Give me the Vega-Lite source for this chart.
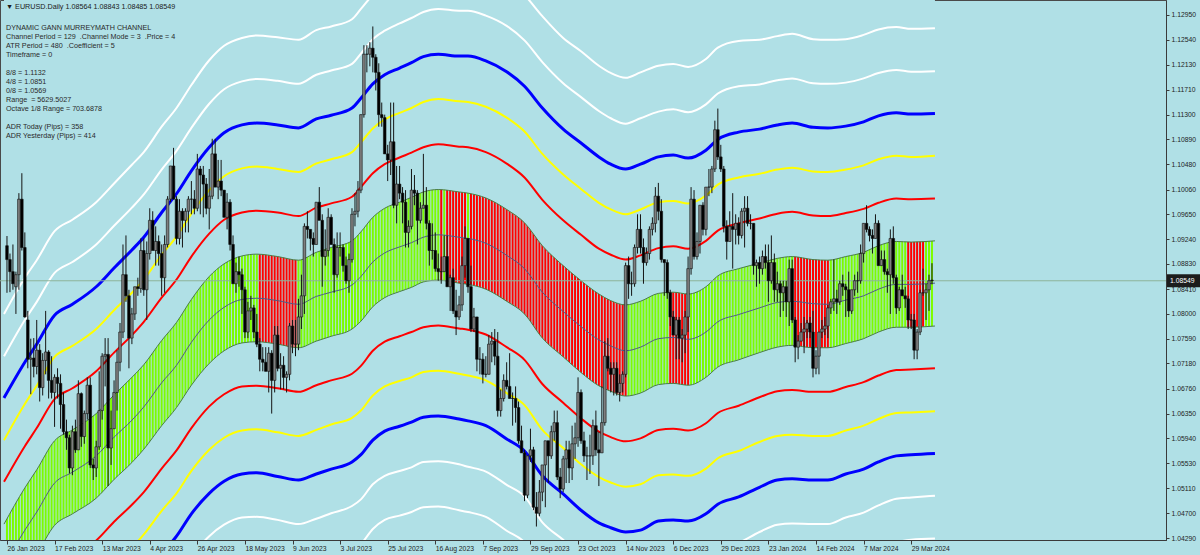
{
"$schema":"https://vega.github.io/schema/vega-lite/v6.json",
"width":1166,"height":540,
"autosize":{"type":"none"},
"padding":{"left":0,"top":0,"right":34,"bottom":15},
"title":{"text":"▼ EURUSD.Daily  1.08564 1.08843 1.08485 1.08549","subtitle":["\u2800","\u00a0DYNAMIC GANN MURREYMATH CHANNEL","Channel Period = 129 \u00a0.Channel Mode = 3 \u00a0.Price = 4","ATR Period = 480 \u00a0.Coefficient = 5","Timeframe = 0","\u2800","8/8 = 1.1132","4/8 = 1.0851","0/8 = 1.0569","Range \u00a0= 5629.5027","Octave 1/8 Range = 703.6878","\u2800","ADR Today (Pips) = 358","ADR Yesterday (Pips) = 414"],"anchor":"start","frame":"group","orient":"top","offset":-139,"dx":6,"font":"Liberation Sans","fontSize":7.2,"fontWeight":"normal","color":"#1a1a1a","subtitleFont":"Liberation Sans","subtitleFontSize":7.2,"subtitleColor":"#2a2a2a","subtitleLineHeight":9,"subtitlePadding":4.5},
"config":{"background":"#B0E0E6","view":{"stroke":"#4a4a4a","strokeWidth":1},"axis":{"labelFont":"Liberation Sans","labelFontSize":6.8,"labelColor":"#1e1e1e","tickColor":"#3a3a3a","domainColor":"#3a3a3a","grid":false}},
"resolve":{"axis":{"x":"independent","y":"independent"}},
"datasets":{
"bars":[
{"i":0,"o":1.0913,"h":1.0929,"l":1.0835,"c":1.0890,"s":"g"},
{"i":1,"o":1.0890,"h":1.0900,"l":1.0836,"c":1.0870,"s":"g"},
{"i":2,"o":1.0870,"h":1.0915,"l":1.0840,"c":1.0850,"s":"g"},
{"i":3,"o":1.0845,"h":1.0870,"l":1.0800,"c":1.0865,"s":"g"},
{"i":4,"o":1.0865,"h":1.1000,"l":1.0840,"c":1.0990,"s":"g"},
{"i":5,"o":1.0990,"h":1.1033,"l":1.0905,"c":1.0910,"s":"g"},
{"i":6,"o":1.0910,"h":1.0935,"l":1.0794,"c":1.0795,"s":"g"},
{"i":7,"o":1.0790,"h":1.0805,"l":1.0710,"c":1.0725,"s":"g"},
{"i":8,"o":1.0725,"h":1.0759,"l":1.0667,"c":1.0727,"s":"g"},
{"i":9,"o":1.0727,"h":1.0760,"l":1.0695,"c":1.0713,"s":"g"},
{"i":10,"o":1.0713,"h":1.0790,"l":1.0700,"c":1.0740,"s":"g"},
{"i":11,"o":1.0740,"h":1.0750,"l":1.0655,"c":1.0678,"s":"g"},
{"i":12,"o":1.0678,"h":1.0735,"l":1.0665,"c":1.0723,"s":"g"},
{"i":13,"o":1.0723,"h":1.0805,"l":1.0700,"c":1.0737,"s":"g"},
{"i":14,"o":1.0737,"h":1.0740,"l":1.0660,"c":1.0690,"s":"g"},
{"i":15,"o":1.0690,"h":1.0730,"l":1.0660,"c":1.0670,"s":"g"},
{"i":16,"o":1.0670,"h":1.0700,"l":1.0613,"c":1.0695,"s":"g"},
{"i":17,"o":1.0695,"h":1.0710,"l":1.0660,"c":1.0685,"s":"g"},
{"i":18,"o":1.0685,"h":1.0700,"l":1.0610,"c":1.0650,"s":"g"},
{"i":19,"o":1.0650,"h":1.0670,"l":1.0600,"c":1.0605,"s":"g"},
{"i":20,"o":1.0605,"h":1.0625,"l":1.0575,"c":1.0595,"s":"g"},
{"i":21,"o":1.0595,"h":1.0600,"l":1.0536,"c":1.0545,"s":"g"},
{"i":22,"o":1.0545,"h":1.0615,"l":1.0533,"c":1.0605,"s":"g"},
{"i":23,"o":1.0605,"h":1.0625,"l":1.0570,"c":1.0575,"s":"g"},
{"i":24,"o":1.0575,"h":1.0690,"l":1.0575,"c":1.0668,"s":"g"},
{"i":25,"o":1.0668,"h":1.0670,"l":1.0580,"c":1.0597,"s":"g"},
{"i":26,"o":1.0597,"h":1.0640,"l":1.0585,"c":1.0635,"s":"g"},
{"i":27,"o":1.0635,"h":1.0695,"l":1.0625,"c":1.0682,"s":"g"},
{"i":28,"o":1.0682,"h":1.0695,"l":1.0545,"c":1.0550,"s":"g"},
{"i":29,"o":1.0550,"h":1.0560,"l":1.0525,"c":1.0545,"s":"g"},
{"i":30,"o":1.0545,"h":1.0590,"l":1.0530,"c":1.0580,"s":"g"},
{"i":31,"o":1.0580,"h":1.0705,"l":1.0575,"c":1.0640,"s":"g"},
{"i":32,"o":1.0640,"h":1.0735,"l":1.0625,"c":1.0730,"s":"g"},
{"i":33,"o":1.0730,"h":1.0760,"l":1.0680,"c":1.0733,"s":"g"},
{"i":34,"o":1.0733,"h":1.0760,"l":1.0515,"c":1.0578,"s":"g"},
{"i":35,"o":1.0578,"h":1.0640,"l":1.0550,"c":1.0610,"s":"g"},
{"i":36,"o":1.0610,"h":1.0690,"l":1.0610,"c":1.0670,"s":"g"},
{"i":37,"o":1.0670,"h":1.0740,"l":1.0640,"c":1.0720,"s":"g"},
{"i":38,"o":1.0720,"h":1.0785,"l":1.0705,"c":1.0770,"s":"g"},
{"i":39,"o":1.0770,"h":1.0915,"l":1.0760,"c":1.0865,"s":"g"},
{"i":40,"o":1.0865,"h":1.0930,"l":1.0820,"c":1.0830,"s":"g"},
{"i":41,"o":1.0830,"h":1.0840,"l":1.0710,"c":1.0760,"s":"g"},
{"i":42,"o":1.0760,"h":1.0810,"l":1.0750,"c":1.0800,"s":"g"},
{"i":43,"o":1.0800,"h":1.0845,"l":1.0790,"c":1.0845,"s":"g"},
{"i":44,"o":1.0845,"h":1.0860,"l":1.0830,"c":1.0842,"s":"g"},
{"i":45,"o":1.0842,"h":1.0925,"l":1.0835,"c":1.0905,"s":"g"},
{"i":46,"o":1.0905,"h":1.0925,"l":1.0830,"c":1.0840,"s":"g"},
{"i":47,"o":1.0840,"h":1.0920,"l":1.0790,"c":1.0900,"s":"g"},
{"i":48,"o":1.0900,"h":1.0975,"l":1.0890,"c":1.0955,"s":"g"},
{"i":49,"o":1.0955,"h":1.0970,"l":1.0910,"c":1.0905,"s":"g"},
{"i":50,"o":1.0905,"h":1.0945,"l":1.0880,"c":1.0920,"s":"g"},
{"i":51,"o":1.0920,"h":1.0930,"l":1.0880,"c":1.0900,"s":"g"},
{"i":52,"o":1.0900,"h":1.0915,"l":1.0830,"c":1.0860,"s":"g"},
{"i":53,"o":1.0860,"h":1.0930,"l":1.0835,"c":1.0915,"s":"g"},
{"i":54,"o":1.0915,"h":1.0995,"l":1.0910,"c":1.0990,"s":"g"},
{"i":55,"o":1.0990,"h":1.1045,"l":1.0985,"c":1.1045,"s":"g"},
{"i":56,"o":1.1045,"h":1.1075,"l":1.0990,"c":1.0990,"s":"g"},
{"i":57,"o":1.0990,"h":1.0995,"l":1.0915,"c":1.0925,"s":"g"},
{"i":58,"o":1.0925,"h":1.0990,"l":1.0915,"c":1.0970,"s":"g"},
{"i":59,"o":1.0970,"h":1.0975,"l":1.0910,"c":1.0955,"s":"g"},
{"i":60,"o":1.0955,"h":1.0975,"l":1.0935,"c":1.0970,"s":"g"},
{"i":61,"o":1.0970,"h":1.0995,"l":1.0935,"c":1.0990,"s":"g"},
{"i":62,"o":1.0990,"h":1.1020,"l":1.0965,"c":1.0990,"s":"g"},
{"i":63,"o":1.0990,"h":1.1005,"l":1.0965,"c":1.0975,"s":"g"},
{"i":64,"o":1.0975,"h":1.1065,"l":1.0970,"c":1.1040,"s":"g"},
{"i":65,"o":1.1040,"h":1.1045,"l":1.0965,"c":1.1030,"s":"g"},
{"i":66,"o":1.1030,"h":1.1045,"l":1.0960,"c":1.1015,"s":"g"},
{"i":67,"o":1.1015,"h":1.1025,"l":1.0965,"c":1.0975,"s":"g"},
{"i":68,"o":1.0975,"h":1.1040,"l":1.0940,"c":1.0995,"s":"g"},
{"i":69,"o":1.0995,"h":1.1090,"l":1.0990,"c":1.1065,"s":"g"},
{"i":70,"o":1.1065,"h":1.1090,"l":1.1010,"c":1.1010,"s":"g"},
{"i":71,"o":1.1010,"h":1.1055,"l":1.0990,"c":1.1020,"s":"g"},
{"i":72,"o":1.1020,"h":1.1055,"l":1.0995,"c":1.1005,"s":"g"},
{"i":73,"o":1.1005,"h":1.1005,"l":1.0960,"c":1.0960,"s":"g"},
{"i":74,"o":1.0960,"h":1.1000,"l":1.0940,"c":1.0985,"s":"g"},
{"i":75,"o":1.0985,"h":1.0990,"l":1.0905,"c":1.0915,"s":"g"},
{"i":76,"o":1.0915,"h":1.0930,"l":1.0850,"c":1.0850,"s":"g"},
{"i":77,"o":1.0850,"h":1.0885,"l":1.0835,"c":1.0870,"s":"g"},
{"i":78,"o":1.0870,"h":1.0895,"l":1.0845,"c":1.0865,"s":"g"},
{"i":79,"o":1.0865,"h":1.0875,"l":1.0800,"c":1.0840,"s":"g"},
{"i":80,"o":1.0840,"h":1.0845,"l":1.0760,"c":1.0770,"s":"g"},
{"i":81,"o":1.0770,"h":1.0820,"l":1.0760,"c":1.0805,"s":"g"},
{"i":82,"o":1.0805,"h":1.0830,"l":1.0790,"c":1.0810,"s":"g"},
{"i":83,"o":1.0810,"h":1.0815,"l":1.0760,"c":1.0770,"s":"g"},
{"i":84,"o":1.0770,"h":1.0800,"l":1.0745,"c":1.0750,"s":"g"},
{"i":85,"o":1.0750,"h":1.0760,"l":1.0705,"c":1.0725,"s":"r"},
{"i":86,"o":1.0725,"h":1.0745,"l":1.0705,"c":1.0720,"s":"r"},
{"i":87,"o":1.0720,"h":1.0745,"l":1.0705,"c":1.0705,"s":"r"},
{"i":88,"o":1.0705,"h":1.0745,"l":1.0670,"c":1.0735,"s":"r"},
{"i":89,"o":1.0735,"h":1.0740,"l":1.0635,"c":1.0690,"s":"r"},
{"i":90,"o":1.0690,"h":1.0780,"l":1.0670,"c":1.0765,"s":"r"},
{"i":91,"o":1.0765,"h":1.0780,"l":1.0705,"c":1.0710,"s":"r"},
{"i":92,"o":1.0710,"h":1.0735,"l":1.0675,"c":1.0715,"s":"r"},
{"i":93,"o":1.0715,"h":1.0730,"l":1.0675,"c":1.0695,"s":"r"},
{"i":94,"o":1.0695,"h":1.0705,"l":1.0670,"c":1.0700,"s":"r"},
{"i":95,"o":1.0700,"h":1.0785,"l":1.0690,"c":1.0780,"s":"r"},
{"i":96,"o":1.0780,"h":1.0790,"l":1.0735,"c":1.0750,"s":"r"},
{"i":97,"o":1.0750,"h":1.0790,"l":1.0730,"c":1.0750,"s":"r"},
{"i":98,"o":1.0750,"h":1.0825,"l":1.0740,"c":1.0795,"s":"g"},
{"i":99,"o":1.0795,"h":1.0865,"l":1.0775,"c":1.0830,"s":"g"},
{"i":100,"o":1.0830,"h":1.0950,"l":1.0800,"c":1.0945,"s":"g"},
{"i":101,"o":1.0945,"h":1.0970,"l":1.0925,"c":1.0940,"s":"g"},
{"i":102,"o":1.0940,"h":1.0940,"l":1.0905,"c":1.0925,"s":"g"},
{"i":103,"o":1.0925,"h":1.0935,"l":1.0895,"c":1.0915,"s":"g"},
{"i":104,"o":1.0915,"h":1.0985,"l":1.0915,"c":1.0985,"s":"g"},
{"i":105,"o":1.0985,"h":1.1010,"l":1.0955,"c":1.0955,"s":"g"},
{"i":106,"o":1.0955,"h":1.0965,"l":1.0845,"c":1.0895,"s":"g"},
{"i":107,"o":1.0895,"h":1.0940,"l":1.0880,"c":1.0905,"s":"g"},
{"i":108,"o":1.0905,"h":1.0975,"l":1.0895,"c":1.0960,"s":"g"},
{"i":109,"o":1.0960,"h":1.0965,"l":1.0915,"c":1.0915,"s":"g"},
{"i":110,"o":1.0915,"h":1.0925,"l":1.0835,"c":1.0865,"s":"g"},
{"i":111,"o":1.0865,"h":1.0935,"l":1.0860,"c":1.0910,"s":"g"},
{"i":112,"o":1.0910,"h":1.0935,"l":1.0895,"c":1.0910,"s":"g"},
{"i":113,"o":1.0910,"h":1.0915,"l":1.0870,"c":1.0880,"s":"g"},
{"i":114,"o":1.0880,"h":1.0895,"l":1.0850,"c":1.0855,"s":"g"},
{"i":115,"o":1.0855,"h":1.0900,"l":1.0835,"c":1.0890,"s":"g"},
{"i":116,"o":1.0890,"h":1.0975,"l":1.0885,"c":1.0965,"s":"g"},
{"i":117,"o":1.0965,"h":1.1000,"l":1.0945,"c":1.0970,"s":"g"},
{"i":118,"o":1.0970,"h":1.1020,"l":1.0960,"c":1.1005,"s":"g"},
{"i":119,"o":1.1005,"h":1.1130,"l":1.1000,"c":1.1130,"s":"g"},
{"i":120,"o":1.1130,"h":1.1245,"l":1.1125,"c":1.1230,"s":"g"},
{"i":121,"o":1.1230,"h":1.1245,"l":1.1200,"c":1.1230,"s":"g"},
{"i":122,"o":1.1230,"h":1.1250,"l":1.1210,"c":1.1240,"s":"g"},
{"i":123,"o":1.1240,"h":1.1276,"l":1.1200,"c":1.1225,"s":"g"},
{"i":124,"o":1.1225,"h":1.1230,"l":1.1170,"c":1.1200,"s":"g"},
{"i":125,"o":1.1200,"h":1.1215,"l":1.1110,"c":1.1130,"s":"g"},
{"i":126,"o":1.1130,"h":1.1150,"l":1.1110,"c":1.1125,"s":"g"},
{"i":127,"o":1.1125,"h":1.1130,"l":1.1065,"c":1.1065,"s":"g"},
{"i":128,"o":1.1065,"h":1.1080,"l":1.1020,"c":1.1055,"s":"g"},
{"i":129,"o":1.1055,"h":1.1150,"l":1.1030,"c":1.1085,"s":"g"},
{"i":130,"o":1.1085,"h":1.1150,"l":1.0975,"c":1.0980,"s":"g"},
{"i":131,"o":1.0980,"h":1.1045,"l":1.0950,"c":1.1015,"s":"g"},
{"i":132,"o":1.1015,"h":1.1045,"l":1.0990,"c":1.1000,"s":"g"},
{"i":133,"o":1.1000,"h":1.1010,"l":1.0950,"c":1.0985,"s":"g"},
{"i":134,"o":1.0985,"h":1.1005,"l":1.0910,"c":1.0935,"s":"g"},
{"i":135,"o":1.0935,"h":1.0955,"l":1.0910,"c":1.0945,"s":"g"},
{"i":136,"o":1.0945,"h":1.1040,"l":1.0940,"c":1.1005,"s":"g"},
{"i":137,"o":1.1005,"h":1.1030,"l":1.0980,"c":1.1000,"s":"g"},
{"i":138,"o":1.1000,"h":1.1005,"l":1.0915,"c":1.0955,"s":"g"},
{"i":139,"o":1.0955,"h":1.0985,"l":1.0950,"c":1.0975,"s":"g"},
{"i":140,"o":1.0975,"h":1.1065,"l":1.0975,"c":1.0980,"s":"g"},
{"i":141,"o":1.0980,"h":1.1010,"l":1.0940,"c":1.0950,"s":"g"},
{"i":142,"o":1.0950,"h":1.0955,"l":1.0880,"c":1.0905,"s":"g"},
{"i":143,"o":1.0905,"h":1.0950,"l":1.0890,"c":1.0905,"s":"g"},
{"i":144,"o":1.0905,"h":1.0935,"l":1.0870,"c":1.0875,"s":"g"},
{"i":145,"o":1.0875,"h":1.0900,"l":1.0855,"c":1.0870,"s":"g"},
{"i":146,"o":1.0870,"h":1.0895,"l":1.0850,"c":1.0870,"s":"r"},
{"i":147,"o":1.0870,"h":1.0930,"l":1.0870,"c":1.0895,"s":"g"},
{"i":148,"o":1.0895,"h":1.0930,"l":1.0845,"c":1.0845,"s":"r"},
{"i":149,"o":1.0845,"h":1.0865,"l":1.0805,"c":1.0860,"s":"r"},
{"i":150,"o":1.0860,"h":1.0875,"l":1.0800,"c":1.0805,"s":"r"},
{"i":151,"o":1.0805,"h":1.0840,"l":1.0765,"c":1.0795,"s":"r"},
{"i":152,"o":1.0795,"h":1.0830,"l":1.0790,"c":1.0815,"s":"r"},
{"i":153,"o":1.0815,"h":1.0895,"l":1.0805,"c":1.0880,"s":"r"},
{"i":154,"o":1.0880,"h":1.0945,"l":1.0860,"c":1.0925,"s":"r"},
{"i":155,"o":1.0925,"h":1.0925,"l":1.0835,"c":1.0845,"s":"g"},
{"i":156,"o":1.0845,"h":1.0880,"l":1.0770,"c":1.0775,"s":"r"},
{"i":157,"o":1.0775,"h":1.0810,"l":1.0770,"c":1.0795,"s":"r"},
{"i":158,"o":1.0795,"h":1.0795,"l":1.0705,"c":1.0725,"s":"r"},
{"i":159,"o":1.0725,"h":1.0745,"l":1.0700,"c":1.0725,"s":"r"},
{"i":160,"o":1.0725,"h":1.0735,"l":1.0685,"c":1.0700,"s":"r"},
{"i":161,"o":1.0700,"h":1.0730,"l":1.0695,"c":1.0700,"s":"r"},
{"i":162,"o":1.0700,"h":1.0765,"l":1.0700,"c":1.0750,"s":"r"},
{"i":163,"o":1.0750,"h":1.0770,"l":1.0720,"c":1.0755,"s":"r"},
{"i":164,"o":1.0755,"h":1.0775,"l":1.0715,"c":1.0730,"s":"r"},
{"i":165,"o":1.0730,"h":1.0770,"l":1.0630,"c":1.0640,"s":"r"},
{"i":166,"o":1.0640,"h":1.0675,"l":1.0630,"c":1.0660,"s":"r"},
{"i":167,"o":1.0660,"h":1.0700,"l":1.0655,"c":1.0690,"s":"r"},
{"i":168,"o":1.0690,"h":1.0720,"l":1.0675,"c":1.0680,"s":"r"},
{"i":169,"o":1.0680,"h":1.0735,"l":1.0660,"c":1.0660,"s":"r"},
{"i":170,"o":1.0660,"h":1.0670,"l":1.0615,"c":1.0660,"s":"r"},
{"i":171,"o":1.0660,"h":1.0680,"l":1.0620,"c":1.0645,"s":"r"},
{"i":172,"o":1.0645,"h":1.0655,"l":1.0585,"c":1.0590,"s":"r"},
{"i":173,"o":1.0590,"h":1.0615,"l":1.0570,"c":1.0570,"s":"r"},
{"i":174,"o":1.0570,"h":1.0575,"l":1.0490,"c":1.0500,"s":"r"},
{"i":175,"o":1.0500,"h":1.0565,"l":1.0495,"c":1.0565,"s":"r"},
{"i":176,"o":1.0565,"h":1.0610,"l":1.0555,"c":1.0575,"s":"r"},
{"i":177,"o":1.0575,"h":1.0580,"l":1.0475,"c":1.0480,"s":"r"},
{"i":178,"o":1.0480,"h":1.0505,"l":1.0448,"c":1.0470,"s":"r"},
{"i":179,"o":1.0470,"h":1.0525,"l":1.0465,"c":1.0505,"s":"r"},
{"i":180,"o":1.0505,"h":1.0545,"l":1.0490,"c":1.0550,"s":"r"},
{"i":181,"o":1.0550,"h":1.0590,"l":1.0480,"c":1.0590,"s":"r"},
{"i":182,"o":1.0590,"h":1.0590,"l":1.0520,"c":1.0565,"s":"r"},
{"i":183,"o":1.0565,"h":1.0615,"l":1.0560,"c":1.0605,"s":"r"},
{"i":184,"o":1.0605,"h":1.0640,"l":1.0590,"c":1.0620,"s":"r"},
{"i":185,"o":1.0620,"h":1.0640,"l":1.0525,"c":1.0530,"s":"r"},
{"i":186,"o":1.0530,"h":1.0545,"l":1.0495,"c":1.0510,"s":"r"},
{"i":187,"o":1.0510,"h":1.0565,"l":1.0505,"c":1.0560,"s":"r"},
{"i":188,"o":1.0560,"h":1.0590,"l":1.0520,"c":1.0575,"s":"r"},
{"i":189,"o":1.0575,"h":1.0590,"l":1.0520,"c":1.0545,"s":"r"},
{"i":190,"o":1.0545,"h":1.0615,"l":1.0525,"c":1.0585,"s":"r"},
{"i":191,"o":1.0585,"h":1.0620,"l":1.0560,"c":1.0595,"s":"r"},
{"i":192,"o":1.0595,"h":1.0695,"l":1.0580,"c":1.0670,"s":"r"},
{"i":193,"o":1.0670,"h":1.0675,"l":1.0585,"c":1.0590,"s":"r"},
{"i":194,"o":1.0590,"h":1.0605,"l":1.0555,"c":1.0565,"s":"r"},
{"i":195,"o":1.0565,"h":1.0580,"l":1.0525,"c":1.0565,"s":"r"},
{"i":196,"o":1.0565,"h":1.0600,"l":1.0535,"c":1.0565,"s":"r"},
{"i":197,"o":1.0565,"h":1.0625,"l":1.0550,"c":1.0615,"s":"r"},
{"i":198,"o":1.0615,"h":1.0640,"l":1.0565,"c":1.0575,"s":"r"},
{"i":199,"o":1.0575,"h":1.0605,"l":1.0515,"c":1.0570,"s":"r"},
{"i":200,"o":1.0570,"h":1.0680,"l":1.0570,"c":1.0620,"s":"r"},
{"i":201,"o":1.0620,"h":1.0755,"l":1.0615,"c":1.0730,"s":"r"},
{"i":202,"o":1.0730,"h":1.0760,"l":1.0705,"c":1.0710,"s":"r"},
{"i":203,"o":1.0710,"h":1.0720,"l":1.0670,"c":1.0700,"s":"r"},
{"i":204,"o":1.0700,"h":1.0720,"l":1.0665,"c":1.0710,"s":"r"},
{"i":205,"o":1.0710,"h":1.0720,"l":1.0665,"c":1.0670,"s":"r"},
{"i":206,"o":1.0670,"h":1.0700,"l":1.0655,"c":1.0685,"s":"r"},
{"i":207,"o":1.0685,"h":1.0705,"l":1.0670,"c":1.0700,"s":"r"},
{"i":208,"o":1.0700,"h":1.0885,"l":1.0695,"c":1.0880,"s":"r"},
{"i":209,"o":1.0880,"h":1.0895,"l":1.0825,"c":1.0850,"s":"g"},
{"i":210,"o":1.0850,"h":1.0870,"l":1.0830,"c":1.0850,"s":"g"},
{"i":211,"o":1.0850,"h":1.0915,"l":1.0845,"c":1.0910,"s":"g"},
{"i":212,"o":1.0910,"h":1.0965,"l":1.0900,"c":1.0940,"s":"g"},
{"i":213,"o":1.0940,"h":1.0965,"l":1.0900,"c":1.0910,"s":"g"},
{"i":214,"o":1.0910,"h":1.0925,"l":1.0850,"c":1.0885,"s":"g"},
{"i":215,"o":1.0885,"h":1.0910,"l":1.0880,"c":1.0900,"s":"g"},
{"i":216,"o":1.0900,"h":1.0945,"l":1.0890,"c":1.0940,"s":"g"},
{"i":217,"o":1.0940,"h":1.0960,"l":1.0930,"c":1.0950,"s":"g"},
{"i":218,"o":1.0950,"h":1.1010,"l":1.0935,"c":1.0995,"s":"g"},
{"i":219,"o":1.0995,"h":1.1017,"l":1.0955,"c":1.0970,"s":"g"},
{"i":220,"o":1.0970,"h":1.0990,"l":1.0885,"c":1.0890,"s":"g"},
{"i":221,"o":1.0890,"h":1.0890,"l":1.0830,"c":1.0885,"s":"g"},
{"i":222,"o":1.0885,"h":1.0890,"l":1.0825,"c":1.0835,"s":"g"},
{"i":223,"o":1.0835,"h":1.0840,"l":1.0780,"c":1.0795,"s":"r"},
{"i":224,"o":1.0795,"h":1.0805,"l":1.0765,"c":1.0765,"s":"r"},
{"i":225,"o":1.0765,"h":1.0795,"l":1.0725,"c":1.0790,"s":"r"},
{"i":226,"o":1.0790,"h":1.0795,"l":1.0725,"c":1.0760,"s":"r"},
{"i":227,"o":1.0760,"h":1.0775,"l":1.0720,"c":1.0765,"s":"r"},
{"i":228,"o":1.0765,"h":1.0805,"l":1.0735,"c":1.0795,"s":"r"},
{"i":229,"o":1.0795,"h":1.0895,"l":1.0770,"c":1.0875,"s":"r"},
{"i":230,"o":1.0875,"h":1.1010,"l":1.0865,"c":1.0990,"s":"g"},
{"i":231,"o":1.0990,"h":1.1005,"l":1.0890,"c":1.0895,"s":"g"},
{"i":232,"o":1.0895,"h":1.0935,"l":1.0890,"c":1.0920,"s":"g"},
{"i":233,"o":1.0920,"h":1.0980,"l":1.0900,"c":1.0980,"s":"g"},
{"i":234,"o":1.0980,"h":1.0985,"l":1.0930,"c":1.0940,"s":"g"},
{"i":235,"o":1.0940,"h":1.1010,"l":1.0930,"c":1.1010,"s":"g"},
{"i":236,"o":1.1010,"h":1.1040,"l":1.0995,"c":1.1010,"s":"g"},
{"i":237,"o":1.1010,"h":1.1045,"l":1.1000,"c":1.1040,"s":"g"},
{"i":238,"o":1.1040,"h":1.1120,"l":1.1035,"c":1.1105,"s":"g"},
{"i":239,"o":1.1105,"h":1.1140,"l":1.1055,"c":1.1060,"s":"g"},
{"i":240,"o":1.1060,"h":1.1080,"l":1.1035,"c":1.1040,"s":"g"},
{"i":241,"o":1.1040,"h":1.1045,"l":1.0935,"c":1.0945,"s":"g"},
{"i":242,"o":1.0945,"h":1.0955,"l":1.0890,"c":1.0920,"s":"g"},
{"i":243,"o":1.0920,"h":1.0970,"l":1.0920,"c":1.0945,"s":"g"},
{"i":244,"o":1.0945,"h":1.1000,"l":1.0875,"c":1.0940,"s":"g"},
{"i":245,"o":1.0940,"h":1.0965,"l":1.0915,"c":1.0950,"s":"g"},
{"i":246,"o":1.0950,"h":1.0960,"l":1.0915,"c":1.0930,"s":"g"},
{"i":247,"o":1.0930,"h":1.0975,"l":1.0925,"c":1.0970,"s":"g"},
{"i":248,"o":1.0970,"h":1.0995,"l":1.0910,"c":1.0975,"s":"g"},
{"i":249,"o":1.0975,"h":1.0995,"l":1.0945,"c":1.0950,"s":"g"},
{"i":250,"o":1.0950,"h":1.0965,"l":1.0940,"c":1.0950,"s":"g"},
{"i":251,"o":1.0950,"h":1.0950,"l":1.0865,"c":1.0880,"s":"g"},
{"i":252,"o":1.0880,"h":1.0890,"l":1.0845,"c":1.0885,"s":"g"},
{"i":253,"o":1.0885,"h":1.0895,"l":1.0850,"c":1.0875,"s":"g"},
{"i":254,"o":1.0875,"h":1.0905,"l":1.0865,"c":1.0895,"s":"g"},
{"i":255,"o":1.0895,"h":1.0915,"l":1.0875,"c":1.0885,"s":"g"},
{"i":256,"o":1.0885,"h":1.0915,"l":1.0820,"c":1.0855,"s":"g"},
{"i":257,"o":1.0855,"h":1.0930,"l":1.0850,"c":1.0885,"s":"g"},
{"i":258,"o":1.0885,"h":1.0900,"l":1.0820,"c":1.0840,"s":"g"},
{"i":259,"o":1.0840,"h":1.0870,"l":1.0820,"c":1.0850,"s":"g"},
{"i":260,"o":1.0850,"h":1.0855,"l":1.0795,"c":1.0835,"s":"g"},
{"i":261,"o":1.0835,"h":1.0855,"l":1.0805,"c":1.0845,"s":"g"},
{"i":262,"o":1.0845,"h":1.0855,"l":1.0795,"c":1.0820,"s":"g"},
{"i":263,"o":1.0820,"h":1.0890,"l":1.0780,"c":1.0875,"s":"g"},
{"i":264,"o":1.0875,"h":1.0890,"l":1.0785,"c":1.0790,"s":"g"},
{"i":265,"o":1.0790,"h":1.0795,"l":1.0720,"c":1.0745,"s":"r"},
{"i":266,"o":1.0745,"h":1.0765,"l":1.0725,"c":1.0755,"s":"r"},
{"i":267,"o":1.0755,"h":1.0785,"l":1.0755,"c":1.0770,"s":"r"},
{"i":268,"o":1.0770,"h":1.0795,"l":1.0735,"c":1.0775,"s":"r"},
{"i":269,"o":1.0775,"h":1.0790,"l":1.0760,"c":1.0785,"s":"r"},
{"i":270,"o":1.0785,"h":1.0795,"l":1.0760,"c":1.0770,"s":"r"},
{"i":271,"o":1.0770,"h":1.0805,"l":1.0695,"c":1.0710,"s":"r"},
{"i":272,"o":1.0710,"h":1.0740,"l":1.0700,"c":1.0730,"s":"r"},
{"i":273,"o":1.0730,"h":1.0770,"l":1.0700,"c":1.0770,"s":"r"},
{"i":274,"o":1.0770,"h":1.0790,"l":1.0760,"c":1.0775,"s":"r"},
{"i":275,"o":1.0775,"h":1.0795,"l":1.0765,"c":1.0780,"s":"r"},
{"i":276,"o":1.0780,"h":1.0815,"l":1.0760,"c":1.0810,"s":"r"},
{"i":277,"o":1.0810,"h":1.0825,"l":1.0800,"c":1.0820,"s":"g"},
{"i":278,"o":1.0820,"h":1.0890,"l":1.0805,"c":1.0825,"s":"g"},
{"i":279,"o":1.0825,"h":1.0840,"l":1.0800,"c":1.0820,"s":"g"},
{"i":280,"o":1.0820,"h":1.0855,"l":1.0815,"c":1.0850,"s":"g"},
{"i":281,"o":1.0850,"h":1.0865,"l":1.0830,"c":1.0845,"s":"g"},
{"i":282,"o":1.0845,"h":1.0850,"l":1.0795,"c":1.0840,"s":"g"},
{"i":283,"o":1.0840,"h":1.0870,"l":1.0795,"c":1.0805,"s":"g"},
{"i":284,"o":1.0805,"h":1.0840,"l":1.0800,"c":1.0840,"s":"g"},
{"i":285,"o":1.0840,"h":1.0865,"l":1.0830,"c":1.0855,"s":"g"},
{"i":286,"o":1.0855,"h":1.0870,"l":1.0835,"c":1.0855,"s":"g"},
{"i":287,"o":1.0855,"h":1.0915,"l":1.0850,"c":1.0900,"s":"g"},
{"i":288,"o":1.0900,"h":1.0950,"l":1.0885,"c":1.0950,"s":"g"},
{"i":289,"o":1.0950,"h":1.0980,"l":1.0935,"c":1.0940,"s":"g"},
{"i":290,"o":1.0940,"h":1.0945,"l":1.0920,"c":1.0930,"s":"g"},
{"i":291,"o":1.0930,"h":1.0940,"l":1.0900,"c":1.0925,"s":"g"},
{"i":292,"o":1.0925,"h":1.0965,"l":1.0925,"c":1.0950,"s":"g"},
{"i":293,"o":1.0950,"h":1.0955,"l":1.0880,"c":1.0880,"s":"g"},
{"i":294,"o":1.0880,"h":1.0905,"l":1.0880,"c":1.0890,"s":"g"},
{"i":295,"o":1.0890,"h":1.0905,"l":1.0865,"c":1.0870,"s":"g"},
{"i":296,"o":1.0870,"h":1.0875,"l":1.0835,"c":1.0865,"s":"g"},
{"i":297,"o":1.0865,"h":1.0940,"l":1.0800,"c":1.0925,"s":"g"},
{"i":298,"o":1.0925,"h":1.0945,"l":1.0850,"c":1.0860,"s":"g"},
{"i":299,"o":1.0860,"h":1.0865,"l":1.0800,"c":1.0810,"s":"g"},
{"i":300,"o":1.0810,"h":1.0845,"l":1.0805,"c":1.0840,"s":"g"},
{"i":301,"o":1.0840,"h":1.0865,"l":1.0830,"c":1.0830,"s":"g"},
{"i":302,"o":1.0830,"h":1.0845,"l":1.0810,"c":1.0825,"s":"g"},
{"i":303,"o":1.0825,"h":1.0830,"l":1.0775,"c":1.0790,"s":"r"},
{"i":304,"o":1.0790,"h":1.0800,"l":1.0775,"c":1.0790,"s":"r"},
{"i":305,"o":1.0790,"h":1.0800,"l":1.0725,"c":1.0740,"s":"r"},
{"i":306,"o":1.0740,"h":1.0775,"l":1.0725,"c":1.0770,"s":"r"},
{"i":307,"o":1.0770,"h":1.0840,"l":1.0765,"c":1.0835,"s":"r"},
{"i":308,"o":1.0835,"h":1.0875,"l":1.0830,"c":1.0835,"s":"r"},
{"i":309,"o":1.0835,"h":1.0850,"l":1.0790,"c":1.0840,"s":"g"},
{"i":310,"o":1.0840,"h":1.0865,"l":1.0805,"c":1.0855,"s":"g"},
{"i":311,"o":1.0856,"h":1.0884,"l":1.0849,"c":1.0855,"s":"g"}
],
"lv":[
{"i":-1,"m":1.0383,"u1":1.0452,"l1":1.0313,"u2":1.0522,"l2":1.0244,"u3":1.0591,"l3":1.0174,"u4":1.0661,"l4":1.0104,"u5":1.0730,"l5":1.0035,"u6":1.0800,"l6":0.9965},
{"i":6,"m":1.0442,"u1":1.0512,"l1":1.0373,"u2":1.0581,"l2":1.0303,"u3":1.0651,"l3":1.0234,"u4":1.0720,"l4":1.0164,"u5":1.0790,"l5":1.0094,"u6":1.0860,"l6":1.0025},
{"i":10,"m":1.0472,"u1":1.0542,"l1":1.0402,"u2":1.0611,"l2":1.0333,"u3":1.0681,"l3":1.0263,"u4":1.0750,"l4":1.0194,"u5":1.0820,"l5":1.0124,"u6":1.0889,"l6":1.0055},
{"i":16,"m":1.0520,"u1":1.0590,"l1":1.0450,"u2":1.0659,"l2":1.0381,"u3":1.0729,"l3":1.0311,"u4":1.0798,"l4":1.0242,"u5":1.0868,"l5":1.0172,"u6":1.0937,"l6":1.0103},
{"i":22,"m":1.0538,"u1":1.0608,"l1":1.0469,"u2":1.0677,"l2":1.0399,"u3":1.0747,"l3":1.0330,"u4":1.0816,"l4":1.0260,"u5":1.0886,"l5":1.0190,"u6":1.0956,"l6":1.0121},
{"i":30,"m":1.0565,"u1":1.0635,"l1":1.0495,"u2":1.0705,"l2":1.0425,"u3":1.0775,"l3":1.0355,"u4":1.0845,"l4":1.0285,"u5":1.0915,"l5":1.0214,"u6":1.0985,"l6":1.0144},
{"i":36,"m":1.0596,"u1":1.0666,"l1":1.0526,"u2":1.0736,"l2":1.0456,"u3":1.0806,"l3":1.0386,"u4":1.0876,"l4":1.0316,"u5":1.0946,"l5":1.0246,"u6":1.1016,"l6":1.0176},
{"i":42,"m":1.0624,"u1":1.0695,"l1":1.0554,"u2":1.0765,"l2":1.0484,"u3":1.0835,"l3":1.0413,"u4":1.0906,"l4":1.0343,"u5":1.0976,"l5":1.0272,"u6":1.1047,"l6":1.0202},
{"i":46,"m":1.0646,"u1":1.0716,"l1":1.0576,"u2":1.0787,"l2":1.0505,"u3":1.0857,"l3":1.0435,"u4":1.0927,"l4":1.0364,"u5":1.0998,"l5":1.0294,"u6":1.1068,"l6":1.0224},
{"i":52,"m":1.0686,"u1":1.0756,"l1":1.0615,"u2":1.0827,"l2":1.0544,"u3":1.0898,"l3":1.0474,"u4":1.0968,"l4":1.0403,"u5":1.1039,"l5":1.0332,"u6":1.1110,"l6":1.0261},
{"i":57,"m":1.0715,"u1":1.0786,"l1":1.0645,"u2":1.0857,"l2":1.0574,"u3":1.0928,"l3":1.0503,"u4":1.0999,"l4":1.0432,"u5":1.1070,"l5":1.0361,"u6":1.1141,"l6":1.0290},
{"i":62,"m":1.0753,"u1":1.0824,"l1":1.0682,"u2":1.0895,"l2":1.0611,"u3":1.0966,"l3":1.0540,"u4":1.1037,"l4":1.0469,"u5":1.1108,"l5":1.0398,"u6":1.1179,"l6":1.0327},
{"i":68,"m":1.0790,"u1":1.0862,"l1":1.0718,"u2":1.0933,"l2":1.0647,"u3":1.1005,"l3":1.0575,"u4":1.1076,"l4":1.0503,"u5":1.1148,"l5":1.0432,"u6":1.1220,"l6":1.0360},
{"i":73,"m":1.0811,"u1":1.0883,"l1":1.0739,"u2":1.0956,"l2":1.0667,"u3":1.1028,"l3":1.0595,"u4":1.1100,"l4":1.0523,"u5":1.1172,"l5":1.0451,"u6":1.1244,"l6":1.0379},
{"i":79,"m":1.0824,"u1":1.0896,"l1":1.0752,"u2":1.0968,"l2":1.0680,"u3":1.1041,"l3":1.0607,"u4":1.1113,"l4":1.0535,"u5":1.1185,"l5":1.0463,"u6":1.1257,"l6":1.0391},
{"i":84,"m":1.0826,"u1":1.0899,"l1":1.0754,"u2":1.0971,"l2":1.0681,"u3":1.1044,"l3":1.0609,"u4":1.1116,"l4":1.0537,"u5":1.1189,"l5":1.0464,"u6":1.1261,"l6":1.0392},
{"i":91,"m":1.0822,"u1":1.0895,"l1":1.0750,"u2":1.0968,"l2":1.0677,"u3":1.1040,"l3":1.0604,"u4":1.1113,"l4":1.0531,"u5":1.1186,"l5":1.0459,"u6":1.1258,"l6":1.0386},
{"i":98,"m":1.0816,"u1":1.0889,"l1":1.0744,"u2":1.0962,"l2":1.0671,"u3":1.1035,"l3":1.0598,"u4":1.1108,"l4":1.0525,"u5":1.1181,"l5":1.0452,"u6":1.1254,"l6":1.0379},
{"i":104,"m":1.0829,"u1":1.0902,"l1":1.0755,"u2":1.0976,"l2":1.0682,"u3":1.1049,"l3":1.0608,"u4":1.1123,"l4":1.0535,"u5":1.1196,"l5":1.0461,"u6":1.1270,"l6":1.0388},
{"i":109,"m":1.0836,"u1":1.0910,"l1":1.0763,"u2":1.0983,"l2":1.0690,"u3":1.1056,"l3":1.0617,"u4":1.1129,"l4":1.0543,"u5":1.1203,"l5":1.0470,"u6":1.1276,"l6":1.0397},
{"i":116,"m":1.0848,"u1":1.0921,"l1":1.0775,"u2":1.0994,"l2":1.0701,"u3":1.1068,"l3":1.0628,"u4":1.1141,"l4":1.0555,"u5":1.1214,"l5":1.0482,"u6":1.1288,"l6":1.0408},
{"i":119,"m":1.0862,"u1":1.0936,"l1":1.0788,"u2":1.1010,"l2":1.0714,"u3":1.1084,"l3":1.0640,"u4":1.1157,"l4":1.0567,"u5":1.1231,"l5":1.0493,"u6":1.1305,"l6":1.0419},
{"i":123,"m":1.0886,"u1":1.0960,"l1":1.0812,"u2":1.1033,"l2":1.0739,"u3":1.1107,"l3":1.0665,"u4":1.1181,"l4":1.0591,"u5":1.1255,"l5":1.0518,"u6":1.1328,"l6":1.0444},
{"i":127,"m":1.0901,"u1":1.0975,"l1":1.0827,"u2":1.1048,"l2":1.0754,"u3":1.1122,"l3":1.0680,"u4":1.1196,"l4":1.0606,"u5":1.1269,"l5":1.0532,"u6":1.1343,"l6":1.0459},
{"i":132,"m":1.0911,"u1":1.0985,"l1":1.0837,"u2":1.1059,"l2":1.0763,"u3":1.1133,"l3":1.0689,"u4":1.1207,"l4":1.0614,"u5":1.1281,"l5":1.0540,"u6":1.1355,"l6":1.0466},
{"i":136,"m":1.0918,"u1":1.0993,"l1":1.0844,"u2":1.1067,"l2":1.0770,"u3":1.1141,"l3":1.0695,"u4":1.1216,"l4":1.0621,"u5":1.1290,"l5":1.0546,"u6":1.1364,"l6":1.0472},
{"i":140,"m":1.0927,"u1":1.1002,"l1":1.0853,"u2":1.1076,"l2":1.0778,"u3":1.1151,"l3":1.0704,"u4":1.1226,"l4":1.0629,"u5":1.1300,"l5":1.0555,"u6":1.1375,"l6":1.0480},
{"i":145,"m":1.0931,"u1":1.1006,"l1":1.0856,"u2":1.1081,"l2":1.0781,"u3":1.1156,"l3":1.0706,"u4":1.1230,"l4":1.0631,"u5":1.1305,"l5":1.0556,"u6":1.1380,"l6":1.0481},
{"i":152,"m":1.0927,"u1":1.1002,"l1":1.0851,"u2":1.1077,"l2":1.0776,"u3":1.1152,"l3":1.0701,"u4":1.1227,"l4":1.0626,"u5":1.1302,"l5":1.0551,"u6":1.1378,"l6":1.0475},
{"i":155,"m":1.0925,"u1":1.1000,"l1":1.0849,"u2":1.1076,"l2":1.0774,"u3":1.1151,"l3":1.0698,"u4":1.1227,"l4":1.0623,"u5":1.1302,"l5":1.0547,"u6":1.1378,"l6":1.0472},
{"i":161,"m":1.0917,"u1":1.0992,"l1":1.0841,"u2":1.1068,"l2":1.0766,"u3":1.1143,"l3":1.0690,"u4":1.1219,"l4":1.0615,"u5":1.1294,"l5":1.0539,"u6":1.1370,"l6":1.0464},
{"i":168,"m":1.0897,"u1":1.0973,"l1":1.0821,"u2":1.1049,"l2":1.0745,"u3":1.1125,"l3":1.0669,"u4":1.1201,"l4":1.0593,"u5":1.1277,"l5":1.0517,"u6":1.1353,"l6":1.0441},
{"i":174,"m":1.0875,"u1":1.0951,"l1":1.0800,"u2":1.1026,"l2":1.0724,"u3":1.1102,"l3":1.0649,"u4":1.1177,"l4":1.0573,"u5":1.1253,"l5":1.0498,"u6":1.1328,"l6":1.0422},
{"i":180,"m":1.0836,"u1":1.0913,"l1":1.0760,"u2":1.0989,"l2":1.0684,"u3":1.1065,"l3":1.0608,"u4":1.1141,"l4":1.0532,"u5":1.1217,"l5":1.0455,"u6":1.1293,"l6":1.0379},
{"i":187,"m":1.0804,"u1":1.0880,"l1":1.0729,"u2":1.0955,"l2":1.0653,"u3":1.1031,"l3":1.0578,"u4":1.1106,"l4":1.0502,"u5":1.1182,"l5":1.0426,"u6":1.1257,"l6":1.0351},
{"i":193,"m":1.0779,"u1":1.0855,"l1":1.0703,"u2":1.0931,"l2":1.0627,"u3":1.1007,"l3":1.0551,"u4":1.1083,"l4":1.0475,"u5":1.1159,"l5":1.0399,"u6":1.1235,"l6":1.0323},
{"i":199,"m":1.0757,"u1":1.0833,"l1":1.0681,"u2":1.0908,"l2":1.0605,"u3":1.0984,"l3":1.0530,"u4":1.1060,"l4":1.0454,"u5":1.1136,"l5":1.0378,"u6":1.1211,"l6":1.0302},
{"i":203,"m":1.0747,"u1":1.0822,"l1":1.0672,"u2":1.0898,"l2":1.0596,"u3":1.0973,"l3":1.0521,"u4":1.1048,"l4":1.0446,"u5":1.1124,"l5":1.0370,"u6":1.1199,"l6":1.0295},
{"i":208,"m":1.0739,"u1":1.0815,"l1":1.0664,"u2":1.0890,"l2":1.0589,"u3":1.0965,"l3":1.0514,"u4":1.1040,"l4":1.0439,"u5":1.1115,"l5":1.0364,"u6":1.1191,"l6":1.0288},
{"i":213,"m":1.0745,"u1":1.0821,"l1":1.0669,"u2":1.0897,"l2":1.0594,"u3":1.0973,"l3":1.0518,"u4":1.1048,"l4":1.0442,"u5":1.1124,"l5":1.0366,"u6":1.1200,"l6":1.0291},
{"i":219,"m":1.0759,"u1":1.0834,"l1":1.0683,"u2":1.0909,"l2":1.0608,"u3":1.0985,"l3":1.0533,"u4":1.1060,"l4":1.0457,"u5":1.1135,"l5":1.0382,"u6":1.1211,"l6":1.0307},
{"i":224,"m":1.0761,"u1":1.0836,"l1":1.0685,"u2":1.0912,"l2":1.0610,"u3":1.0987,"l3":1.0534,"u4":1.1063,"l4":1.0459,"u5":1.1139,"l5":1.0383,"u6":1.1214,"l6":1.0308},
{"i":229,"m":1.0758,"u1":1.0833,"l1":1.0682,"u2":1.0908,"l2":1.0607,"u3":1.0983,"l3":1.0532,"u4":1.1058,"l4":1.0457,"u5":1.1134,"l5":1.0382,"u6":1.1209,"l6":1.0307},
{"i":235,"m":1.0770,"u1":1.0845,"l1":1.0695,"u2":1.0921,"l2":1.0619,"u3":1.0996,"l3":1.0544,"u4":1.1071,"l4":1.0469,"u5":1.1147,"l5":1.0393,"u6":1.1222,"l6":1.0318},
{"i":239,"m":1.0787,"u1":1.0863,"l1":1.0712,"u2":1.0938,"l2":1.0636,"u3":1.1014,"l3":1.0561,"u4":1.1089,"l4":1.0485,"u5":1.1165,"l5":1.0410,"u6":1.1241,"l6":1.0334},
{"i":246,"m":1.0799,"u1":1.0875,"l1":1.0724,"u2":1.0950,"l2":1.0648,"u3":1.1026,"l3":1.0573,"u4":1.1101,"l4":1.0497,"u5":1.1177,"l5":1.0421,"u6":1.1252,"l6":1.0346},
{"i":253,"m":1.0810,"u1":1.0884,"l1":1.0736,"u2":1.0958,"l2":1.0662,"u3":1.1032,"l3":1.0588,"u4":1.1106,"l4":1.0513,"u5":1.1180,"l5":1.0439,"u6":1.1254,"l6":1.0365},
{"i":259,"m":1.0819,"u1":1.0892,"l1":1.0745,"u2":1.0966,"l2":1.0672,"u3":1.1039,"l3":1.0598,"u4":1.1113,"l4":1.0525,"u5":1.1187,"l5":1.0451,"u6":1.1260,"l6":1.0378},
{"i":264,"m":1.0821,"u1":1.0895,"l1":1.0748,"u2":1.0969,"l2":1.0674,"u3":1.1042,"l3":1.0600,"u4":1.1116,"l4":1.0527,"u5":1.1190,"l5":1.0453,"u6":1.1264,"l6":1.0379},
{"i":271,"m":1.0817,"u1":1.0890,"l1":1.0744,"u2":1.0963,"l2":1.0671,"u3":1.1036,"l3":1.0598,"u4":1.1109,"l4":1.0525,"u5":1.1182,"l5":1.0452,"u6":1.1255,"l6":1.0379},
{"i":276,"m":1.0816,"u1":1.0889,"l1":1.0744,"u2":1.0962,"l2":1.0671,"u3":1.1035,"l3":1.0598,"u4":1.1108,"l4":1.0525,"u5":1.1181,"l5":1.0452,"u6":1.1254,"l6":1.0379},
{"i":282,"m":1.0823,"u1":1.0895,"l1":1.0751,"u2":1.0967,"l2":1.0679,"u3":1.1039,"l3":1.0607,"u4":1.1111,"l4":1.0535,"u5":1.1183,"l5":1.0463,"u6":1.1255,"l6":1.0391},
{"i":288,"m":1.0830,"u1":1.0902,"l1":1.0759,"u2":1.0974,"l2":1.0687,"u3":1.1046,"l3":1.0615,"u4":1.1118,"l4":1.0543,"u5":1.1190,"l5":1.0471,"u6":1.1262,"l6":1.0399},
{"i":293,"m":1.0841,"u1":1.0913,"l1":1.0770,"u2":1.0984,"l2":1.0698,"u3":1.1056,"l3":1.0626,"u4":1.1128,"l4":1.0555,"u5":1.1199,"l5":1.0483,"u6":1.1271,"l6":1.0412},
{"i":299,"m":1.0849,"u1":1.0920,"l1":1.0778,"u2":1.0991,"l2":1.0707,"u3":1.1062,"l3":1.0636,"u4":1.1133,"l4":1.0565,"u5":1.1204,"l5":1.0494,"u6":1.1275,"l6":1.0422},
{"i":304,"m":1.0849,"u1":1.0919,"l1":1.0778,"u2":1.0990,"l2":1.0708,"u3":1.1060,"l3":1.0637,"u4":1.1131,"l4":1.0567,"u5":1.1201,"l5":1.0496,"u6":1.1272,"l6":1.0426},
{"i":312,"m":1.0851,"u1":1.0921,"l1":1.0780,"u2":1.0991,"l2":1.0710,"u3":1.1062,"l3":1.0639,"u4":1.1132,"l4":1.0569,"u5":1.1202,"l5":1.0499,"u6":1.1273,"l6":1.0428}
]
},
"layer":[
{"data":{"name":"bars"},"mark":{"type":"rule","strokeWidth":2,"clip":true},
 "encoding":{"x":{"field":"i","type":"quantitative","scale":{"domain":[-0.667,388],"nice":false,"zero":false},
   "axis":{"title":null,"orient":"bottom","values":[0,16,32,48,64,80,96,112,128,144,160,176,192,208,224,240,256,272,288,304],"labelExpr":"['26 Jan 2023','17 Feb 2023','13 Mar 2023','4 Apr 2023','26 Apr 2023','18 May 2023','9 Jun 2023','3 Jul 2023','25 Jul 2023','16 Aug 2023','7 Sep 2023','29 Sep 2023','23 Oct 2023','14 Nov 2023','6 Dec 2023','29 Dec 2023','23 Jan 2024','14 Feb 2024','7 Mar 2024','29 Mar 2024'][round(datum.value/16)]","labelAlign":"left","labelPadding":1,"tickSize":4,"labelOverlap":false,"labelFlush":false}},
  "color":{"field":"s","type":"nominal","scale":{"domain":["g","r"],"range":["#7CFC00","#FF0000"]},"legend":null}}},
{"data":{"name":"lv"},"mark":{"type":"area","interpolate":"monotone","color":"#B0E0E6","clip":true},
 "encoding":{"x":{"field":"i","type":"quantitative","scale":{"domain":[-0.667,388],"nice":false,"zero":false},"axis":null},
  "y":{"field":"u1","type":"quantitative","scale":{"domain":[1.04257,1.13198],"nice":false,"zero":false},
   "axis":{"title":null,"orient":"right","values":[1.0429,1.047,1.0511,1.0553,1.0594,1.0635,1.0676,1.0718,1.0759,1.08,1.0841,1.0883,1.0924,1.0965,1.1006,1.1048,1.1089,1.113,1.1171,1.1213,1.1254,1.1295],"format":".5f","tickSize":3,"labelPadding":2,"labelOverlap":false,"labelFlush":false}},
  "y2":{"datum":1.14}}},
{"data":{"name":"lv"},"mark":{"type":"area","interpolate":"monotone","color":"#B0E0E6","clip":true},
 "encoding":{"x":{"field":"i","type":"quantitative","scale":{"domain":[-0.667,388],"nice":false,"zero":false},"axis":null},
  "y":{"field":"l1","type":"quantitative","scale":{"domain":[1.04257,1.13198],"nice":false,"zero":false},"axis":null},
  "y2":{"datum":1.03}}},
{"data":{"name":"lv"},"transform":[{"fold":["u1","l1"],"as":["k","v"]}],"mark":{"type":"line","interpolate":"monotone","color":"#4a7d45","strokeWidth":1,"clip":true},
 "encoding":{"x":{"field":"i","type":"quantitative","scale":{"domain":[-0.667,388],"nice":false,"zero":false},"axis":null},
  "y":{"field":"v","type":"quantitative","scale":{"domain":[1.04257,1.13198],"nice":false,"zero":false},"axis":null},"detail":{"field":"k"}}},
{"data":{"name":"lv"},"mark":{"type":"line","interpolate":"monotone","color":"#4f5b86","strokeWidth":1,"clip":true},
 "encoding":{"x":{"field":"i","type":"quantitative","scale":{"domain":[-0.667,388],"nice":false,"zero":false},"axis":null},
  "y":{"field":"m","type":"quantitative","scale":{"domain":[1.04257,1.13198],"nice":false,"zero":false},"axis":null}}},
{"data":{"name":"lv"},"transform":[{"fold":["u5","l5","u6","l6"],"as":["k","v"]}],"mark":{"type":"line","interpolate":"monotone","color":"#FFFFFF","strokeWidth":2,"clip":true},
 "encoding":{"x":{"field":"i","type":"quantitative","scale":{"domain":[-0.667,388],"nice":false,"zero":false},"axis":null},
  "y":{"field":"v","type":"quantitative","scale":{"domain":[1.04257,1.13198],"nice":false,"zero":false},"axis":null},"detail":{"field":"k"}}},
{"data":{"name":"lv"},"transform":[{"fold":["u4","l4"],"as":["k","v"]}],"mark":{"type":"line","interpolate":"monotone","color":"#0000FF","strokeWidth":3,"clip":true},
 "encoding":{"x":{"field":"i","type":"quantitative","scale":{"domain":[-0.667,388],"nice":false,"zero":false},"axis":null},
  "y":{"field":"v","type":"quantitative","scale":{"domain":[1.04257,1.13198],"nice":false,"zero":false},"axis":null},"detail":{"field":"k"}}},
{"data":{"name":"lv"},"transform":[{"fold":["u3","l3"],"as":["k","v"]}],"mark":{"type":"line","interpolate":"monotone","color":"#FFFF00","strokeWidth":2,"clip":true},
 "encoding":{"x":{"field":"i","type":"quantitative","scale":{"domain":[-0.667,388],"nice":false,"zero":false},"axis":null},
  "y":{"field":"v","type":"quantitative","scale":{"domain":[1.04257,1.13198],"nice":false,"zero":false},"axis":null},"detail":{"field":"k"}}},
{"data":{"name":"lv"},"transform":[{"fold":["u2","l2"],"as":["k","v"]}],"mark":{"type":"line","interpolate":"monotone","color":"#FF0000","strokeWidth":2,"clip":true},
 "encoding":{"x":{"field":"i","type":"quantitative","scale":{"domain":[-0.667,388],"nice":false,"zero":false},"axis":null},
  "y":{"field":"v","type":"quantitative","scale":{"domain":[1.04257,1.13198],"nice":false,"zero":false},"axis":null},"detail":{"field":"k"}}},
{"data":{"values":[{"p":1.08549}]},"mark":{"type":"rule","color":"#8db39a","strokeWidth":1},
 "encoding":{"y":{"field":"p","type":"quantitative","scale":{"domain":[1.04257,1.13198],"nice":false,"zero":false},"axis":null}}},
{"data":{"name":"bars"},"mark":{"type":"rule","color":"#151515","strokeWidth":1,"clip":true},
 "encoding":{"x":{"field":"i","type":"quantitative","scale":{"domain":[-0.667,388],"nice":false,"zero":false},"axis":null},
  "y":{"field":"l","type":"quantitative","scale":{"domain":[1.04257,1.13198],"nice":false,"zero":false},"axis":null},"y2":{"field":"h"}}},
{"data":{"name":"bars"},"mark":{"type":"bar","width":2.6,"stroke":"#101010","strokeWidth":0.6,"clip":true},
 "encoding":{"x":{"field":"i","type":"quantitative","scale":{"domain":[-0.667,388],"nice":false,"zero":false},"axis":null},
  "y":{"field":"o","type":"quantitative","scale":{"domain":[1.04257,1.13198],"nice":false,"zero":false},"axis":null},"y2":{"field":"c"},
  "fill":{"condition":{"test":"datum.c >= datum.o","value":"#7f7f7f"},"value":"#000000"}}},
{"data":{"values":[{"p":1.08549}]},"mark":{"type":"point","shape":"M0.1,-0.65H3.4V0.65H0.1Z","size":400,"filled":true,"fill":"#1c1c1c","opacity":1,"strokeWidth":0},
 "encoding":{"x":{"value":"width"},"y":{"field":"p","type":"quantitative","scale":{"domain":[1.04257,1.13198],"nice":false,"zero":false},"axis":null}}},
{"data":{"values":[{"p":1.08549,"t":"1.08549"}]},"mark":{"type":"text","align":"left","baseline":"middle","dx":4,"font":"Liberation Sans","fontSize":6.8,"fill":"#ffffff"},
 "encoding":{"x":{"value":"width"},"y":{"field":"p","type":"quantitative","scale":{"domain":[1.04257,1.13198],"nice":false,"zero":false},"axis":null},"text":{"field":"t"}}}
]
}
